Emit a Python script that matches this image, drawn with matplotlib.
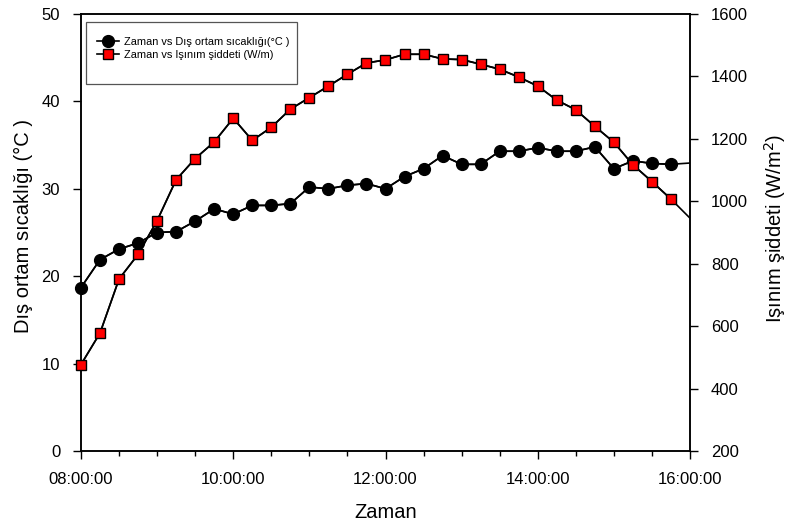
import matplotlib
matplotlib.use("Agg")
import matplotlib.pyplot as plt
from matplotlib.patches import Rectangle
from matplotlib.ticker import FixedLocator, MultipleLocator

plt.rcParams['font.family'] = ['Liberation Sans', 'DejaVu Sans']

times = ["08:00", "08:15", "08:30", "08:45", "09:00", "09:15", "09:30", "09:45",
         "10:00", "10:15", "10:30", "10:45", "11:00", "11:15", "11:30", "11:45",
         "12:00", "12:15", "12:30", "12:45", "13:00", "13:15", "13:30", "13:45",
         "14:00", "14:15", "14:30", "14:45", "15:00", "15:15", "15:30", "15:45",
         "16:15"]
temperature = [18.7, 21.9, 23.1, 23.8, 25.0, 25.1, 26.3, 27.7,
               27.1, 28.1, 28.1, 28.3, 30.2, 30.0, 30.4, 30.6,
               30.0, 31.4, 32.3, 33.8, 32.8, 32.8, 34.3, 34.3,
               34.7, 34.3, 34.3, 34.8, 32.3, 33.2, 32.9, 32.8,
               33.1]
radiation = [477, 578, 751, 830, 938, 1069, 1137, 1190,
             1266, 1195, 1237, 1295, 1332, 1369, 1407, 1443,
             1453, 1471, 1471, 1456, 1454, 1439, 1423, 1398,
             1369, 1324, 1293, 1240, 1189, 1117, 1063, 1007,
             885]
xtick_labels = ["08:00:00", "10:00:00", "12:00:00", "14:00:00", "16:00:00"]
left_ticks = [0, 10, 20, 30, 40, 50]
right_ticks = [200, 400, 600, 800, 1000, 1200, 1400, 1600]

hours = [int(t[:2]) + int(t[3:]) / 60 for t in times]
XMIN, XMAX = 8, 16
inside = [i for i, h in enumerate(hours) if XMIN <= h <= XMAX]
h_in = [hours[i] for i in inside]
t_in = [temperature[i] for i in inside]
r_in = [radiation[i] for i in inside]

fig = plt.figure(figsize=(7.89, 5.27), dpi=100)
ax = fig.add_axes([81/789, 1 - 451/527, 609/789, 437/527])
ax2 = ax.twinx()

# full lines (clipped at the axes edge)
ax.plot(hours, temperature, color='black', lw=1.2, zorder=2)
ax2.plot(hours, radiation, color='black', lw=1.2, zorder=2)
# markers (not clipped at the edge)
l1, = ax.plot(h_in, t_in, color='black', lw=1.2, marker='o', ms=8.5,
              mfc='black', mec='black', clip_on=False, zorder=3,
              label='Zaman vs Dış ortam sıcaklığı(°C )')
l2, = ax2.plot(h_in, r_in, color='black', lw=1.2, marker='s', ms=7.5,
               mfc='#ff0000', mec='black', mew=1.0, clip_on=False, zorder=3,
               label='Zaman vs Işınım şiddeti (W/m)')

ax.set_xlim(XMIN, XMAX)
ax.set_ylim(0, 50)
ax2.set_ylim(200, 1600)

ax.xaxis.set_major_locator(FixedLocator([8, 10, 12, 14, 16]))
ax.set_xticklabels(xtick_labels)
ax.xaxis.set_minor_locator(MultipleLocator(0.5))
ax.set_yticks(left_ticks)
ax2.set_yticks(right_ticks)

for a in (ax, ax2):
    a.tick_params(which='major', direction='out', length=6, width=1, labelsize=12, pad=9)
    a.tick_params(which='minor', direction='out', length=3.5, width=1)
    for s in a.spines.values():
        s.set_linewidth(1.1)

ax.set_xlabel('Zaman', fontsize=14.5, labelpad=12)
ax.set_ylabel('Dış ortam sıcaklığı (°C )', fontsize=14.5, labelpad=6)
ax.yaxis.label.set_y(0.515)
ax2.set_ylabel('Işınım şiddeti (W/m$^2$)', fontsize=14.5, labelpad=10)
ax2.yaxis.label.set_y(0.51)

# legend box
ax2.add_patch(Rectangle((5.5/609, (451-84)/437), 211/609, 61.5/437, transform=ax2.transAxes,
                        facecolor='white', edgecolor='#555555', lw=0.9, zorder=4))
leg = ax2.legend(handles=[l1, l2], loc='upper left', bbox_to_anchor=(0.027, 0.947),
                 frameon=False, fontsize=7.9, handlelength=2.0, handletextpad=0.4,
                 labelspacing=0.22, borderaxespad=0, borderpad=0)
leg.set_zorder(5)

fig.savefig('out.png', dpi=100)
